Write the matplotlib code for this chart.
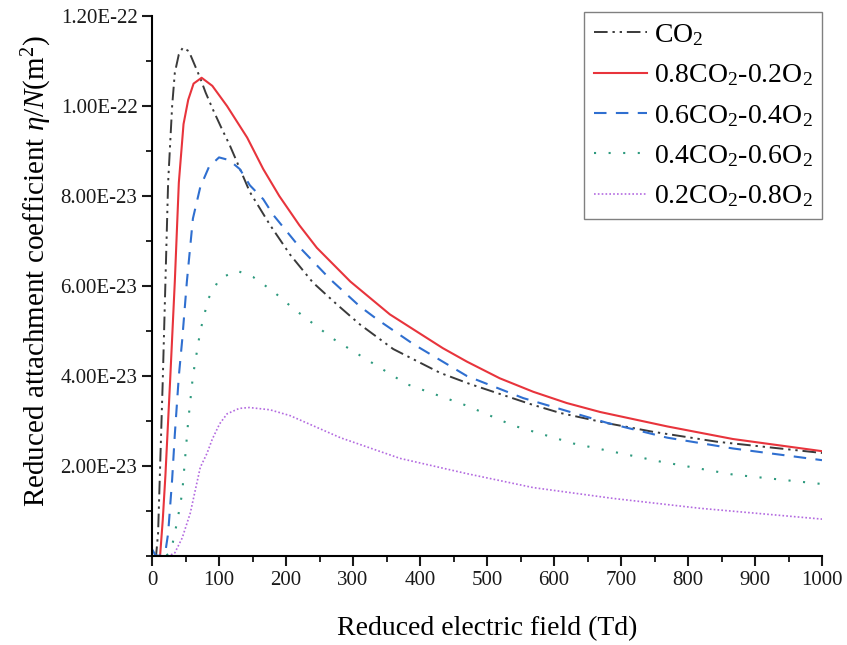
import matplotlib
matplotlib.use('Agg')
import matplotlib.pyplot as plt
import numpy as np
from matplotlib.ticker import MultipleLocator, FuncFormatter

plt.rcParams['font.family'] = 'Liberation Serif'
plt.rcParams['mathtext.fontset'] = 'custom'
plt.rcParams['mathtext.rm'] = 'Liberation Serif'
plt.rcParams['mathtext.it'] = 'Liberation Serif:italic'

# Reduced attachment coefficient (units of 1e-23 m^2) vs reduced field (Td)
x_co2 = [0, 6, 9, 16, 24, 30, 34, 40, 46, 55, 72, 80, 91, 104, 116, 127, 146, 176, 206,
         240, 276, 310, 360, 430, 475, 564, 609, 680, 748, 843, 937, 1000]
y_co2 = [0, 0, 0.5, 3.9, 8.3, 10.0, 10.74, 11.15, 11.3, 11.22, 10.62, 10.3, 9.92, 9.5,
         9.13, 8.75, 8.09, 7.36, 6.7, 6.08, 5.59, 5.15, 4.6, 4.07, 3.82, 3.38, 3.18,
         2.95, 2.76, 2.54, 2.39, 2.29]

x_08 = [0, 12, 16, 20, 27, 34, 40, 47, 54, 62, 74, 90, 112, 142, 166, 190, 220, 246,
        296, 355, 395, 434, 470, 519, 569, 619, 669, 769, 867, 1000]
y_08 = [0, 0, 0.8, 1.8, 3.9, 6.1, 8.3, 9.6, 10.14, 10.5, 10.63, 10.45, 10.0, 9.3, 8.6,
        8.0, 7.35, 6.85, 6.1, 5.37, 4.99, 4.62, 4.32, 3.95, 3.65, 3.4, 3.2, 2.88, 2.6,
        2.33]

x_06 = [0, 5, 10, 20, 24, 30, 34, 40, 45, 52, 61, 72, 85, 100, 115, 131, 146, 166, 181,
        221, 266, 310, 336, 390, 470, 554, 679, 769, 867, 1000]
y_06 = [0.15, 0.02, 0, 0.1, 0.5, 1.7, 2.7, 4.0, 4.8, 6.1, 7.5, 8.2, 8.65, 8.86, 8.8,
        8.6, 8.24, 7.93, 7.58, 6.85, 6.15, 5.55, 5.26, 4.71, 4.0, 3.51, 2.96, 2.63, 2.39,
        2.13]

x_04 = [0, 20, 25, 31, 38, 45, 54, 61, 72, 84, 101, 127, 151, 181, 211, 270, 380, 470,
        539, 629, 684, 758, 867, 1000]
y_04 = [0, 0, 0.05, 0.3, 0.8, 1.4, 3.0, 4.0, 5.0, 5.72, 6.17, 6.34, 6.2, 5.88, 5.5,
        4.83, 3.82, 3.34, 2.9, 2.5, 2.33, 2.1, 1.81, 1.6]

x_02 = [0, 25, 34, 45, 57, 72, 82, 90, 101, 112, 130, 145, 176, 206, 281, 370, 470, 569,
        688, 818, 1000]
y_02 = [0, 0, 0.07, 0.4, 0.95, 1.97, 2.28, 2.6, 2.94, 3.16, 3.28, 3.3, 3.25, 3.12, 2.63,
        2.17, 1.83, 1.52, 1.28, 1.06, 0.82]

labels = ['CO$_2$', '0.8CO$_2$-0.2O$_2$', '0.6CO$_2$-0.4O$_2$',
          '0.4CO$_2$-0.6O$_2$', '0.2CO$_2$-0.8O$_2$']

fig = plt.figure(figsize=(8.47, 6.45), dpi=100)
ax = fig.add_axes([0.1795, 0.138, 0.791, 0.837])

scale = 1e-23
ax.plot(x_co2, np.array(y_co2) * scale, color='#3a3a3a', lw=1.4,
        linestyle=(0, (7, 2.5, 1.2, 2.5, 1.2, 2.5)), label=labels[0])
ax.plot(x_08, np.array(y_08) * scale, color='#e8343c', lw=1.5, linestyle='-',
        label=labels[1])
ax.plot(x_06, np.array(y_06) * scale, color='#2f6fd0', lw=1.5,
        linestyle=(0, (6, 4.5)), label=labels[2])
ax.plot(x_04, np.array(y_04) * scale, color='#2e9a7e', lw=1.5,
        linestyle=(0, (1, 6)), label=labels[3])
ax.plot(x_02, np.array(y_02) * scale, color='#b36ae0', lw=1.2,
        linestyle=(0, (1, 1.3)), label=labels[4])

ax.set_xlim(0, 1000)
ax.set_ylim(0, 1.2e-22)
ax.xaxis.set_major_locator(MultipleLocator(100))
ax.xaxis.set_minor_locator(MultipleLocator(50))
ax.set_yticks(np.arange(2e-23, 1.21e-22, 2e-23))
ax.yaxis.set_minor_locator(MultipleLocator(1e-23))
ax.yaxis.set_major_formatter(FuncFormatter(lambda v, p: '{:.2E}'.format(v)))

for side in ['top', 'right']:
    ax.spines[side].set_visible(False)
for side in ['left', 'bottom']:
    ax.spines[side].set_linewidth(1.5)
ax.tick_params(which='major', direction='out', length=7, width=1.5, labelsize=15,
               colors='#1a1a1a')
ax.tick_params(which='minor', direction='out', length=4, width=1.2)

ax.set_xlabel('Reduced electric field (Td)', fontsize=20, labelpad=19)
ax.set_ylabel(r'Reduced attachment coefficient $\it{\eta/N}$(m$^2$)', fontsize=21)
ax.yaxis.set_label_coords(-0.146, 0.528)

leg = ax.legend(loc='upper right', bbox_to_anchor=(1.0, 1.007), fontsize=20,
                frameon=True, fancybox=False, edgecolor='#808080', framealpha=1,
                handlelength=1.9, handletextpad=0.25, labelspacing=0.52,
                borderpad=0.35, borderaxespad=0)
leg.get_frame().set_linewidth(1.0)

fig.savefig('out.png', dpi=100)
